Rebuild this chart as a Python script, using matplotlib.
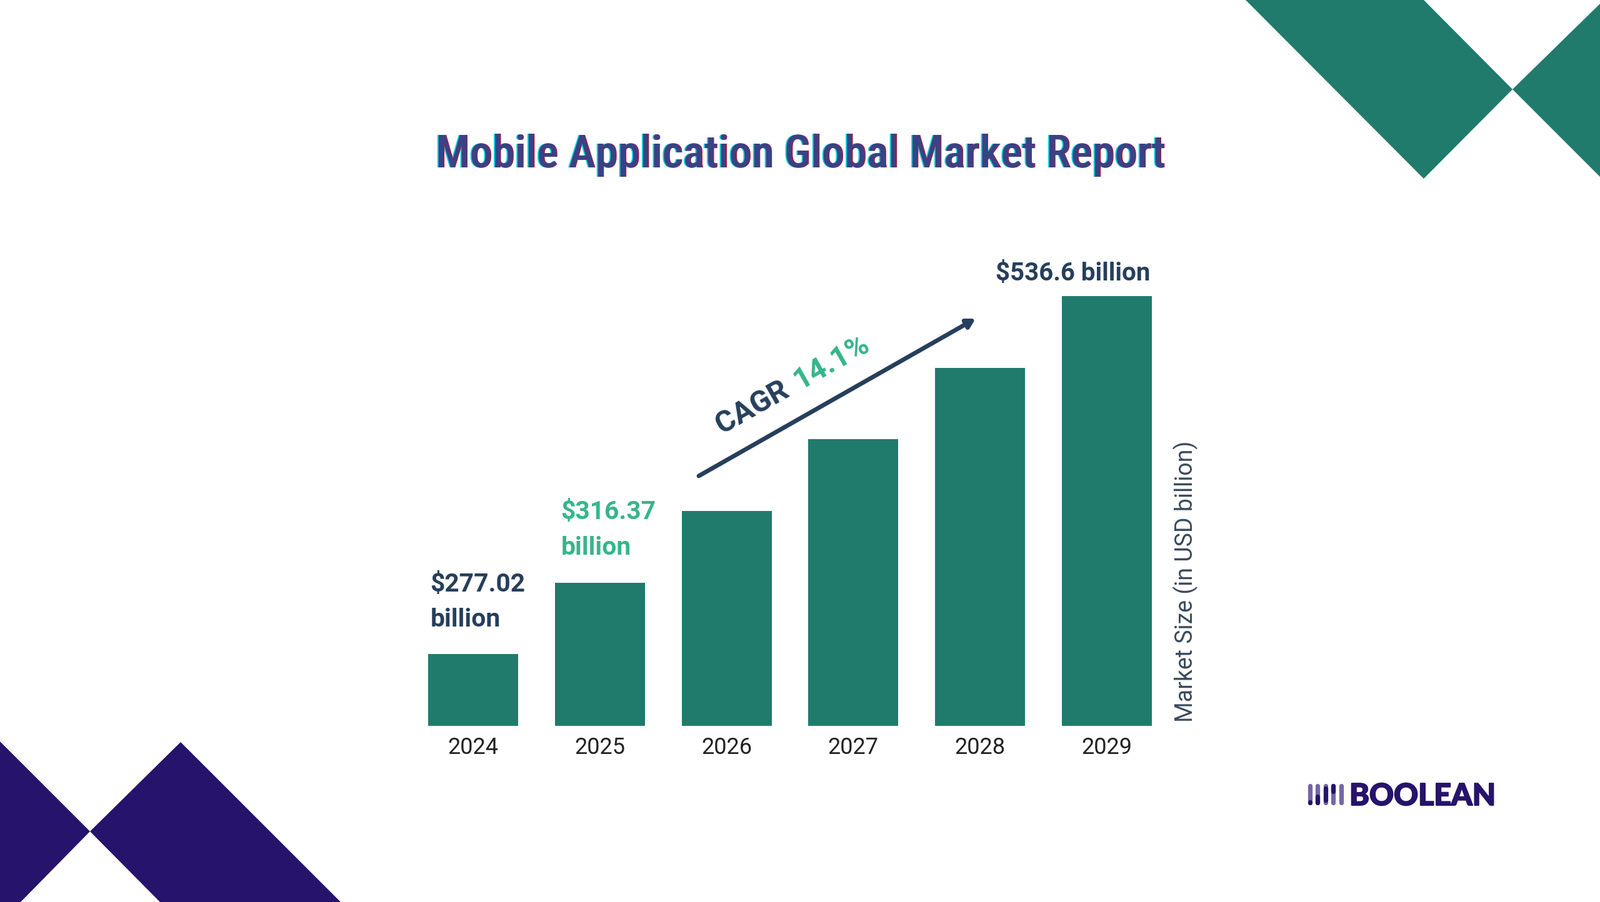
import matplotlib
matplotlib.use("Agg")
import matplotlib.pyplot as plt
import matplotlib.patheffects as pe
from matplotlib.patches import Polygon

# chart data (bars are drawn as equal steps in the source, so heights are relative)
years = ["2024", "2025", "2026", "2027", "2028", "2029"]
bar_heights = [1, 2, 3, 4, 5, 6]
value_labels = ["$277.02\nbillion", "$316.37\nbillion", "$536.6 billion"]
title = "Mobile Application Global Market Report"
y_title = "Market Size (in USD billion)"
cagr_word = "CAGR"
cagr_value = "14.1%"
logo_word = "BOOLEAN"

TEAL = "#207b6c"
NAVY = "#263f5c"
GREEN = "#36b58a"
PURPLE = "#26136b"
W, H = 2560, 1444
plt.rcParams["font.family"] = ["Roboto", "DejaVu Sans"]

fig = plt.figure(figsize=(W / 100, H / 100), dpi=100, facecolor="white")

# background layer in pixel coordinates, used for decoration and free text
bg = fig.add_axes([0, 0, 1, 1])
bg.set_xlim(0, W)
bg.set_ylim(H, 0)
bg.axis("off")

for pts in ([(1993, 0), (2278, 0), (2420, 143), (2278, 286)],
            [(2560, 6), (2420, 143), (2560, 283)]):
    bg.add_patch(Polygon(pts, closed=True, fc=TEAL, ec="none"))
for pts in ([(0, 1187), (144, 1331), (33, 1444), (0, 1444)],
            [(289, 1188), (545, 1444), (256, 1444), (144, 1331)]):
    bg.add_patch(Polygon(pts, closed=True, fc=PURPLE, ec="none"))

# title with the red / cyan fringe of the original
title_font = dict(family=["Roboto Condensed", "Liberation Sans Narrow", "Roboto"],
                  fontweight="semibold", fontstretch="condensed",
                  fontsize=52, ha="center", va="baseline")
bg.text(1279, 268, title, color="#19d3e0", **title_font)
bg.text(1282, 268, title, color="#c8102e", **title_font)
bg.text(1280.5, 268, title, color="#3b4184", **title_font)

# bars
left, right = 655, 1860
pitch = 202.8
ax = fig.add_axes([left / W, (H - 1162) / H, (right - left) / W, 688 / H])
ax.patch.set_alpha(0)
x = range(len(years))
ax.bar(x, bar_heights, width=144 / pitch, color=TEAL)
ax.set_xlim((left - 757) / pitch, (right - 757) / pitch)
ax.set_ylim(0, 6)
ax.set_xticks(list(x))
ax.set_xticklabels(years, fontsize=26, color="#222222")
ax.tick_params(axis="x", length=0, pad=12)
ax.set_yticks([])
for s in ax.spines.values():
    s.set_visible(False)
ax.yaxis.set_label_position("right")
ax.set_ylabel(y_title, fontsize=27, color="#3a4a5c", rotation=90, va="center", ha="center")
ax.yaxis.set_label_coords((1897 - left) / (right - left), (1162 - 931) / 688)

# value labels
bg.text(688, 947, value_labels[0].split("\n")[0], fontsize=29.3, fontweight="bold", color=NAVY)
bg.text(689, 1003, value_labels[0].split("\n")[1], fontsize=29.3, fontweight="bold", color=NAVY)
bg.text(897, 831, value_labels[1].split("\n")[0], fontsize=29.3, fontweight="bold", color=GREEN)
bg.text(898, 888, value_labels[1].split("\n")[1], fontsize=29.3, fontweight="bold", color=GREEN)
bg.text(1593, 449, value_labels[2], fontsize=29, fontweight="bold", color=NAVY)

# CAGR arrow and text
bg.annotate("", xy=(1561, 510), xytext=(1118, 762),
            arrowprops=dict(arrowstyle="-|>,head_length=0.8,head_width=0.45", lw=5,
                            color=NAVY, shrinkA=0, shrinkB=0))
bg.text(1155, 695, cagr_word, fontsize=34.5, fontweight="bold", color=NAVY,
        rotation=29.5, rotation_mode="anchor", ha="left", va="baseline")
bg.text(1279, 624, cagr_value, fontsize=34.5, fontweight="bold", color=GREEN,
        rotation=29.5, rotation_mode="anchor", ha="left", va="baseline")

# logo
pill_x = [2096, 2108, 2121, 2133, 2146]
dark_parts = [(1284, 1285), (1275, 1285), (1262, 1281), (1258, 1267), (1258, 1258)]
for px, (y0, y1) in zip(pill_x, dark_parts):
    bg.plot([px, px], [1258, 1285], color="#7467a5", lw=5.2, solid_capstyle="round")
    bg.plot([px, px], [y0, y1 + 0.1], color=PURPLE, lw=5.2, solid_capstyle="round")
logo = bg.text(2159, 1289, logo_word, family=["Lato", "Roboto"], fontweight="black",
               fontsize=34.7, color=PURPLE, ha="left", va="baseline")
logo.set_path_effects([pe.withStroke(linewidth=1.4, foreground=PURPLE)])

fig.savefig("out.png", dpi=100)
